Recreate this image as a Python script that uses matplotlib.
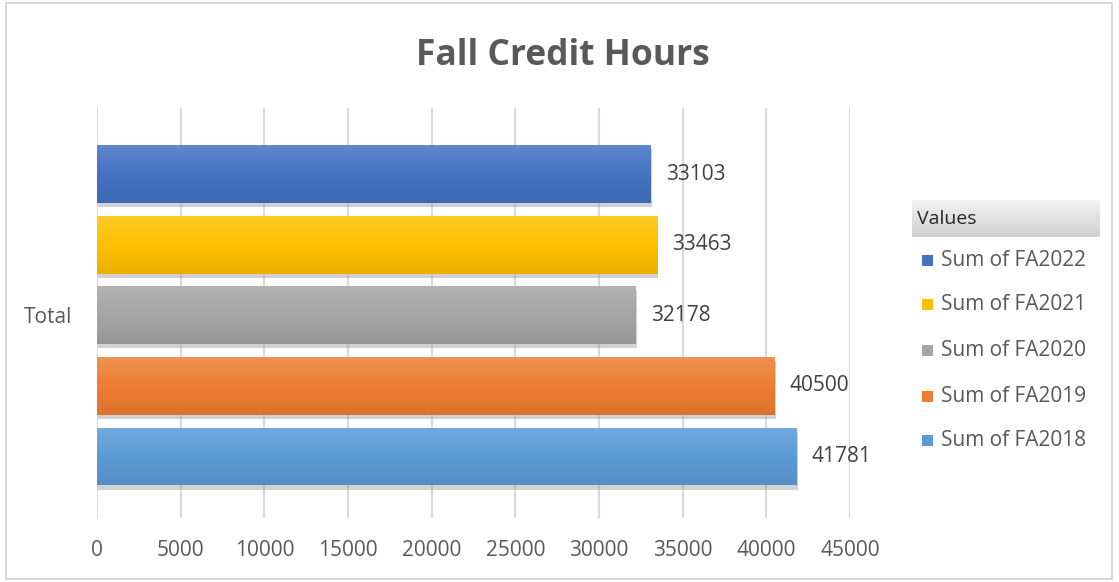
import matplotlib.pyplot as plt
import matplotlib.patheffects as pe
from matplotlib.colors import LinearSegmentedColormap, to_rgb
from matplotlib.patches import Rectangle
import numpy as np

series = ["Sum of FA2018", "Sum of FA2019", "Sum of FA2020", "Sum of FA2021", "Sum of FA2022"]
values = [41781, 40500, 32178, 33463, 33103]
colors = ["#5b9bd5", "#ed7d31", "#a5a5a5", "#ffc000", "#4472c4"]
category = "Total"
xticks = [0, 5000, 10000, 15000, 20000, 25000, 30000, 35000, 40000, 45000]

plt.rcParams['font.family'] = ['Open Sans', 'DejaVu Sans']

fig = plt.figure(figsize=(11.19, 5.82), dpi=100)
ax = fig.add_axes([0.0867, 0.110, 0.673, 0.704])

# outer chart border
fig.patches.append(Rectangle((0.005, 0.006), 0.989, 0.988, transform=fig.transFigure,
                             fill=False, edgecolor="#d0d0d0", linewidth=1.2))


def shade(c, f):
    r = np.array(to_rgb(c))
    if f > 0:
        return tuple(r + (1 - r) * f)
    return tuple(r * (1 + f))


pos = np.arange(len(values))
h = 0.82
bars = ax.barh(pos, values, height=h, color=colors, zorder=3,
               path_effects=[pe.SimplePatchShadow(offset=(1, -3), shadow_rgbFace="#999999", alpha=0.45), pe.Normal()])

grad = np.linspace(0, 1, 100).reshape(-1, 1)
for b, c, v, p in zip(bars, colors, values, pos):
    cm = LinearSegmentedColormap.from_list("g", [shade(c, 0.15), c, shade(c, -0.08)])
    im = ax.imshow(grad, extent=[0, v, p - h / 2, p + h / 2], aspect="auto",
                   cmap=cm, origin="upper", zorder=4)
    im.set_clip_path(b)
    ax.text(v + 900, p, str(v), va="center", ha="left", fontsize=15, color="#404040", zorder=5)

ax.set_xlim(0, 45000)
ax.set_ylim(-0.871, 4.935)
ax.set_xticks(xticks)
ax.set_xticklabels([str(t) for t in xticks])
ax.set_yticks([2])
ax.set_yticklabels([category])
ax.tick_params(axis="both", length=0, labelsize=15, labelcolor="#595959")
ax.tick_params(axis="x", pad=16)
ax.tick_params(axis="y", pad=18)
ax.grid(axis="x", color="#d9d9d9", linewidth=1.5, zorder=0)
for s in ax.spines.values():
    s.set_visible(False)

fig.text(0.503, 0.904, "Fall Credit Hours", ha="center", va="center",
         fontsize=25.5, fontweight="bold", color="#595959")

# legend with header
hx = fig.add_axes([912 / 1119, 1 - 237 / 582, 188 / 1119, 37 / 582])
hgrad = np.linspace(0, 1, 50).reshape(-1, 1)
hx.imshow(hgrad, aspect="auto", extent=[0, 1, 0, 1],
          cmap=LinearSegmentedColormap.from_list("h", ["#f2f2f2", "#d0d0d0"]), origin="upper")
hx.set_axis_off()
hx.text(0.025, 0.5, "Values", va="center", ha="left", fontsize=14, color="#262626")

ly = [440, 396, 350, 304, 260]
for s, c, y in zip(series, colors, ly):
    fig.patches.append(Rectangle((922 / 1119, 1 - (y + 6) / 582), 11 / 1119, 11 / 582,
                                 transform=fig.transFigure, facecolor=c, edgecolor="none"))
    fig.text(941 / 1119, 1 - y / 582, s, va="center", ha="left", fontsize=15, color="#595959")

fig.savefig("out.png", dpi=100)
